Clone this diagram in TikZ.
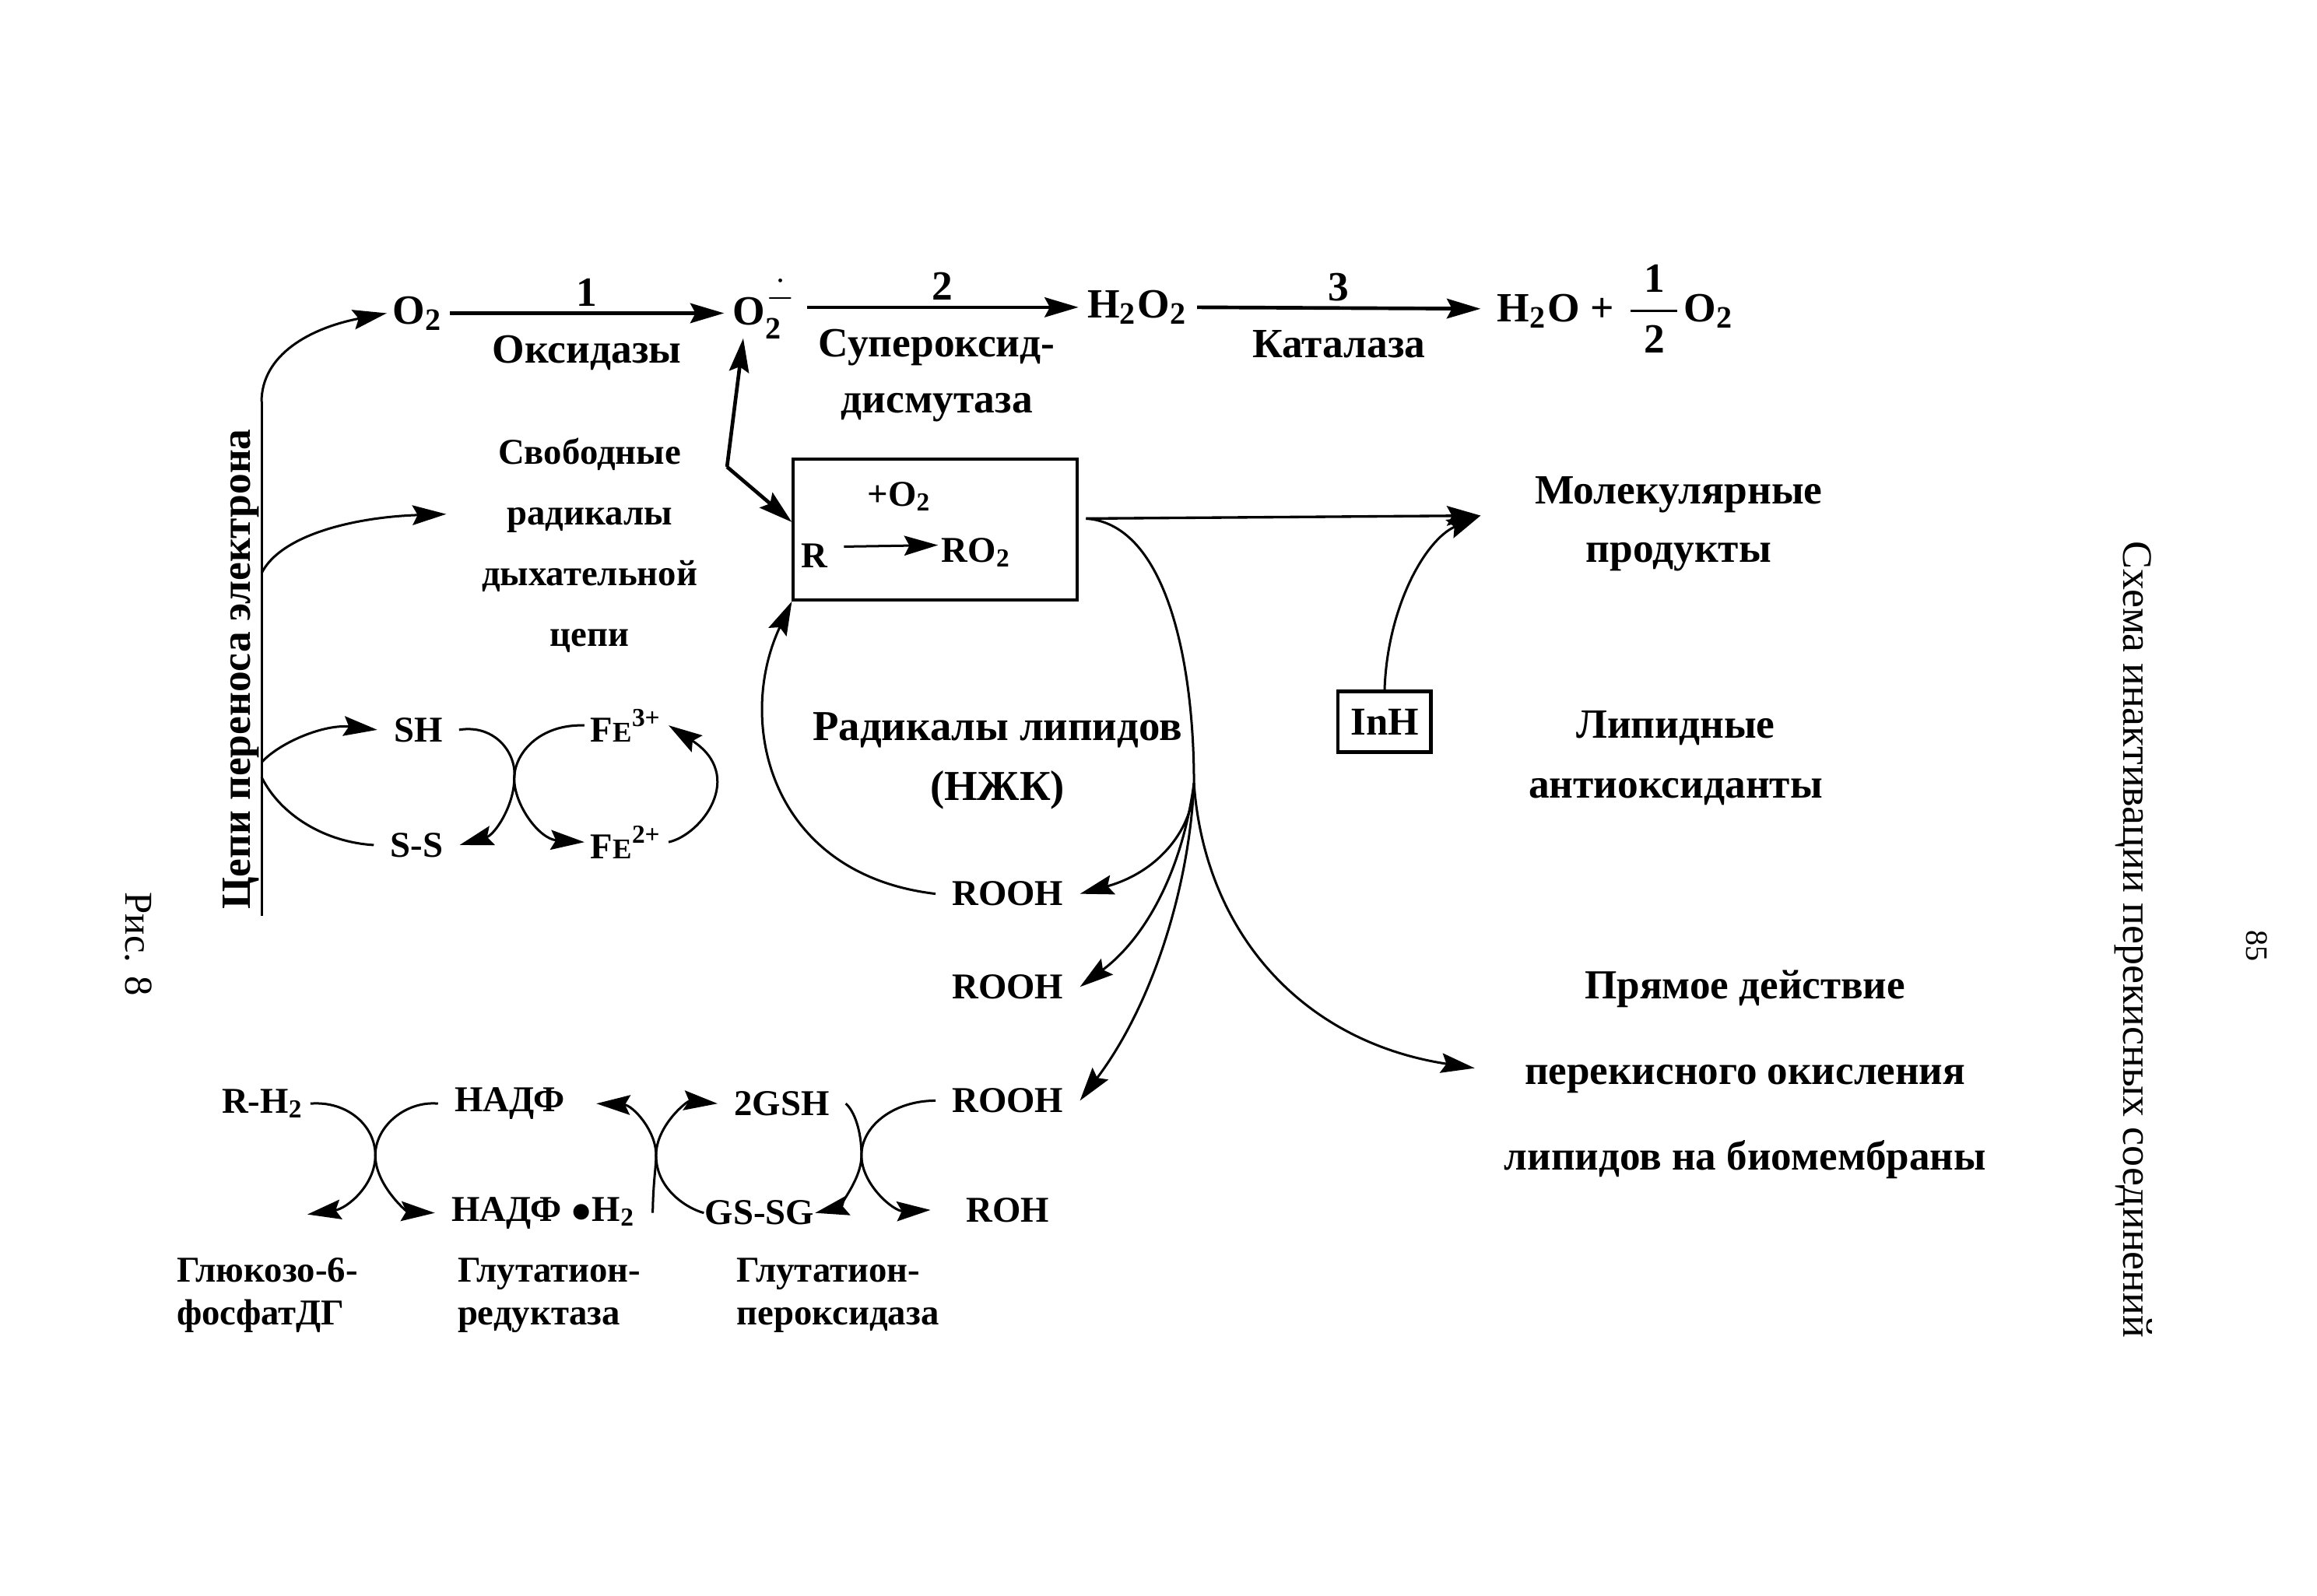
\documentclass[tikz,border=0pt]{standalone}
\usepackage{amsmath}
\usepackage{fontspec}
\setmainfont{Liberation Serif}
\usepackage{tikz}
\usetikzlibrary{arrows.meta,positioning}
\newcommand{\dn}{\textsubscript{2}}
\newcommand{\fe}[1]{F{\fontsize{5.5}{6}\selectfont E}\textsuperscript{#1}}

\begin{document}
\begin{tikzpicture}[x=0.01cm, y=-0.01cm,
  lab/.style={inner sep=3pt, font=\fontsize{8}{9.6}\selectfont\bfseries, align=center},
  big/.style={lab, font=\fontsize{8.2}{11.6}\selectfont\bfseries},
  small/.style={lab, font=\fontsize{7}{8.2}\selectfont\bfseries},
  sparse/.style={lab, font=\fontsize{7}{11.7}\selectfont\bfseries},
  under/.style={small, anchor=north west, inner sep=0pt, align=left},
  plain/.style={inner sep=0pt, font=\fontsize{7.6}{9}\selectfont},
  arrow/.style={-{Stealth[length=6.5pt, width=3.8pt, inset=1pt]}, line width=0.45pt},
  thick arrow/.style={arrow, line width=0.7pt},
  curve/.style={line width=0.45pt}]
\useasboundingbox (0,0) rectangle (1568,1080);
% top row
\node[lab, inner sep=1pt] (o2) at (283,212) {O\dn};
\node[lab, inner sep=1.5pt] (o2r) at (518,209) {O$_{\textbf{2}}^{\dot{-}}$};
\node[lab, inner sep=1.5pt] (h2o2) at (770,208) {H\dn O\dn};
\node[lab, anchor=west] (h2o) at (1002,209) {H\dn O + $\dfrac{\makebox[9pt]{1}}{\makebox[9pt]{2}}$O\dn};
\draw[thick arrow] (o2.east) -- (o2r.west |- o2.east) node[midway, above=-2pt, lab] (n1) {1} node[midway, below=1pt, lab] (oxid) {Оксидазы};
\draw[thick arrow] (o2r.east |- h2o2.west) -- (h2o2.west) node[midway, above=-2pt, lab] (n2) {2};
\node[sparse, font=\fontsize{8}{10.8}\selectfont\bfseries] (sod) at (634,254) {Супероксид-\\дисмутаза};
\draw[thick arrow] (h2o2.east) -- (h2o.west) node[midway, above=-2pt, lab] (n3) {3} node[midway, below=1pt, lab] (cat) {Каталаза};
% electron chain
\coordinate (chaintop) at (177,272);
\coordinate (chainmid) at (177,388);
\coordinate (chainup) at (177,516);
\coordinate (chaindown) at (177,526);
\coordinate (chainbot) at (177,620);
\coordinate (freein) at (302,348);
\draw[curve] (chaintop) -- (chainbot);
\node[lab, rotate=90, font=\fontsize{8}{10}\selectfont\bfseries] (chain) at (163,453) {Цепи переноса электрона};
\draw[arrow] (chaintop) .. controls (177,240) and (210,222) .. (o2.west);
\node[sparse] (free) at (399,369) {Свободные\\радикалы\\дыхательной\\цепи};
\draw[arrow] (chainmid) .. controls (190,362) and (240,350) .. (freein);
% sulphur and iron
\node[small] (sh) at (283,494) {SH};
\node[small] (ss) at (282,572) {S-S};
\node[small, inner sep=1pt] (fe3) at (424,491) {\fe{3+}};
\node[small, inner sep=1pt] (fe2) at (424,570) {\fe{2+}};
\coordinate (crossa) at (348,527);
\draw[arrow] (chainup) .. controls (190,502) and (220,490) .. (sh.west);
\draw[curve] (chaindown) .. controls (190,552) and (220,570) .. (ss.west);
\draw[arrow] (sh.east) .. controls (335,490) and (350,510) .. (crossa) .. controls (348,545) and (335,565) .. (ss.east);
\draw[arrow] (fe3.west) .. controls (365,490) and (348,510) .. (crossa) .. controls (348,545) and (365,568) .. (fe2.west);
\draw[arrow] (fe2.east) .. controls (475,565) and (505,525) .. (fe3.east);
% box
\node[draw, minimum width=1.92cm, minimum height=0.95cm, inner sep=0pt, line width=0.6pt] (rbox) at (633,358.5) {};
\node[small] (plus) at (609,336) {+O\dn};
\node[small] (r) at (551,376) {R};
\node[small, inner sep=0.5pt] (ro2) at (661,374) {RO\dn};
\draw[arrow] ([yshift=0.06cm]r.east) -- ([yshift=0.05cm]ro2.west);
\coordinate (kink) at (492,316);
\coordinate (radin) at (503,229);
\draw[thick arrow] (kink) -- (radin);
\draw[thick arrow] (kink) -- (rbox.177);
% lipids
\node[big] (lip) at (675,515) {Радикалы липидов\\(НЖК)};
\node[small] (rooha) at (682,605) {ROOH};
\node[small] (roohb) at (682,668) {ROOH};
\node[small] (roohc) at (682,745) {ROOH};
\node[small] (roh) at (682,819) {ROH};
\draw[arrow] (rooha.west) .. controls (522,592) and (497,490) .. (rbox.south west);
\coordinate (start) at (735,351);
\coordinate (fan) at (808,530);
\coordinate (molin) at (1002,349);
\coordinate (directin) at (998,723);
\node[lab] (mol) at (1136,354.5) {Молекулярные\\[1.7pt]продукты};
\draw[arrow, line width=0.5pt] (start) -- (molin);
\draw[curve] (start) .. controls (790,355) and (808,450) .. (fan);
\draw[arrow] (fan) .. controls (808,560) and (785,590) .. (rooha.east);
\draw[arrow] (fan) .. controls (800,590) and (775,635) .. (roohb.east);
\draw[arrow] (fan) .. controls (805,600) and (780,680) .. (roohc.east);
\draw[arrow] (fan) .. controls (815,630) and (880,705) .. (directin);
% inhibitor
\node[draw, lab, font=\fontsize{7.6}{9}\selectfont\bfseries, line width=0.7pt, minimum width=0.63cm, minimum height=0.41cm, inner sep=0pt] (inh) at (937,488.5) {InH};
\draw[arrow] (inh.north) .. controls (939,410) and (965,365) .. (molin);
\node[lab] (anti) at (1134,513) {Липидные\\[1.9pt]антиоксиданты};
\node[lab, font=\fontsize{7.95}{16.5}\selectfont\bfseries] (direct) at (1181,727.5) {Прямое действие\\перекисного окисления\\липидов на биомембраны};
% glutathione cycle
\node[small, inner sep=1pt] (rh2) at (178,747) {R-H\dn};
\node[small] (nadp) at (345,747) {НАДФ};
\node[small] (nadph) at (368,821) {НАДФ $\bullet$H\dn};
\node[small] (gsh) at (529,747) {2GSH};
\node[small, inner sep=0pt] (gssg) at (514,821) {GS-SG};
\coordinate (glu) at (208,822);
\coordinate (crossb) at (254,782);
\coordinate (crossc) at (444,782);
\coordinate (crossd) at (583,782);
\draw[arrow] (rh2.east) .. controls (235,745) and (254,762) .. (crossb) .. controls (254,802) and (235,818) .. (glu);
\draw[arrow] (nadp.west) .. controls (275,745) and (254,762) .. (crossb) .. controls (254,802) and (275,820) .. (nadph.west);
\draw[arrow] (gssg.west) .. controls (465,818) and (444,805) .. (crossc) .. controls (444,765) and (428,748) .. ([xshift=0.1cm]nadp.east);
\draw[arrow] (nadph.east) .. controls (442,800) and (444,790) .. (crossc) .. controls (444,762) and (465,745) .. (gsh.west);
\draw[arrow] (gsh.east) .. controls (578,752) and (583,765) .. (crossd) .. controls (583,800) and (565,818) .. (gssg.east);
\draw[arrow] (roohc.west) .. controls (605,745) and (583,762) .. (crossd) .. controls (583,802) and (605,820) .. ([xshift=-0.13cm]roh.west);
\node[under] (g6p) at (119,851) {Глюкозо-6-\\фосфатДГ};
\node[under] (gr) at (309,851) {Глутатион-\\редуктаза};
\node[under] (gp) at (498,851) {Глутатион-\\пероксидаза};
% page text
\node[plain, rotate=-90] (fig) at (94,639) {Рис. 8};
\node[plain, rotate=-90, font=\fontsize{8.08}{9}\selectfont] (title) at (1444,636) {Схема инактивации перекисных соединений};
\node[plain, rotate=-90, font=\fontsize{6}{7}\selectfont] (page) at (1527,640) {85};
\end{tikzpicture}
\end{document}
